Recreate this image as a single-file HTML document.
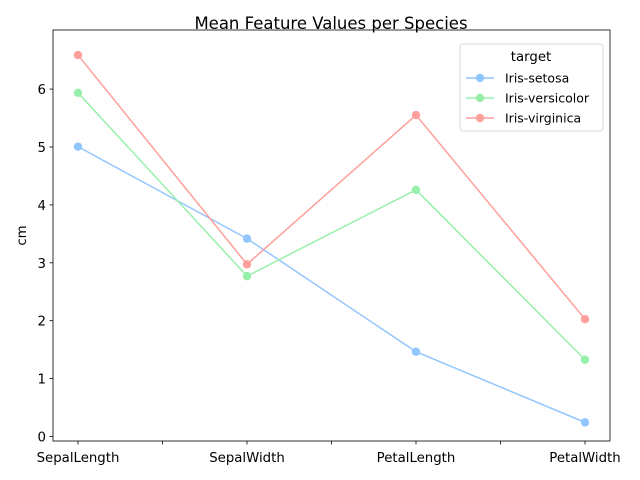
<!DOCTYPE html>
<html><head><meta charset="utf-8"><style>
body{margin:0;background:#fff}
svg{display:block;font-family:"DejaVu Sans","Liberation Sans",sans-serif}
</style></head><body>
<svg id="chart" width="640" height="480" viewBox="0 0 640 480">
<rect x="0" y="0" width="640" height="480" fill="#fff"/>
<text x="331" y="29" text-anchor="middle" font-size="16.5" fill="#000">Mean Feature Values per Species</text>
<g id="axes"></g>
<g id="series"></g>
<g id="legend"></g>
</svg>
<script>
const categories = ["SepalLength","SepalWidth","PetalLength","PetalWidth"];
const speciesNames = ["Iris-setosa","Iris-versicolor","Iris-virginica"];
const setosa = [5.006,3.418,1.464,0.244];
const versicolor = [5.936,2.770,4.260,1.326];
const virginica = [6.588,2.974,5.552,2.026];
const yTicks = [0,1,2,3,4,5,6];
const colors = ["#92c6ff","#97f0aa","#ff9f9a"];
const seriesList = [setosa, versicolor, virginica];

const NS="http://www.w3.org/2000/svg";
const L=53,R=610,T=30,B=441;
function xPos(i){return 78+i*(585-78)/(categories.length-1);}
function yPos(v){return 436.5-v*57.9;}
function mk(tag,attrs,parent){const e=document.createElementNS(NS,tag);for(const k in attrs)e.setAttribute(k,attrs[k]);parent.appendChild(e);return e;}
const axes=document.getElementById('axes');
const frame=mk('rect',{x:L,y:T,width:R-L,height:B-T,fill:'none',stroke:'#000','stroke-width':0.8},axes);


yTicks.forEach(v=>{
  const y=yPos(v);
  mk('line',{x1:L-3.5,x2:L,y1:y,y2:y,stroke:'#000','stroke-width':0.8},axes);
  const t=mk('text',{x:L-7,y:y+5,'text-anchor':'end','font-size':13.3},axes);
  t.textContent=v;
  
  
});
for(let i=0;i<categories.length*2-1;i++){
  const x=78+i*(585-78)/(2*(categories.length-1));
  mk('line',{x1:x,x2:x,y1:B,y2:B+3.5,stroke:'#000','stroke-width':0.8},axes);
}
categories.forEach((c,i)=>{
  const t=mk('text',{x:xPos(i),y:B+21,'text-anchor':'middle','font-size':13.3},axes);
  t.textContent=c;
  
  
});
const yl=mk('text',{x:26,y:(T+B)/2,'text-anchor':'middle','font-size':13.3,transform:`rotate(-90 26 ${(T+B)/2})`},axes);
yl.textContent='cm';



const sg=document.getElementById('series');
seriesList.forEach((s,k)=>{
  const pts=s.map((v,i)=>xPos(i)+','+yPos(v)).join(' ');
  const pl=mk('polyline',{points:pts,fill:'none',stroke:colors[k],'stroke-width':1.5},sg);
  
  
  s.forEach((v,i)=>{
    const c=mk('circle',{cx:xPos(i),cy:yPos(v),r:4.2,fill:colors[k]},sg);
    
    
  });
});

const lg=document.getElementById('legend');
mk('rect',{x:460,y:44,width:143,height:87,rx:3,fill:'#fff',stroke:'#ccc','stroke-width':0.8},lg);
const lt=mk('text',{x:531,y:61,'text-anchor':'middle','font-size':13.3},lg);
lt.textContent='target';


speciesNames.forEach((n,k)=>{
  const y=78+k*20;
  mk('line',{x1:466,x2:494,y1:y,y2:y,stroke:colors[k],'stroke-width':1.5},lg);
  mk('circle',{cx:480,cy:y,r:4.2,fill:colors[k]},lg);
  const t=mk('text',{x:505,y:y+4.5,'font-size':12.5},lg);
  t.textContent=n;
  
  
});
</script>
</body></html>
